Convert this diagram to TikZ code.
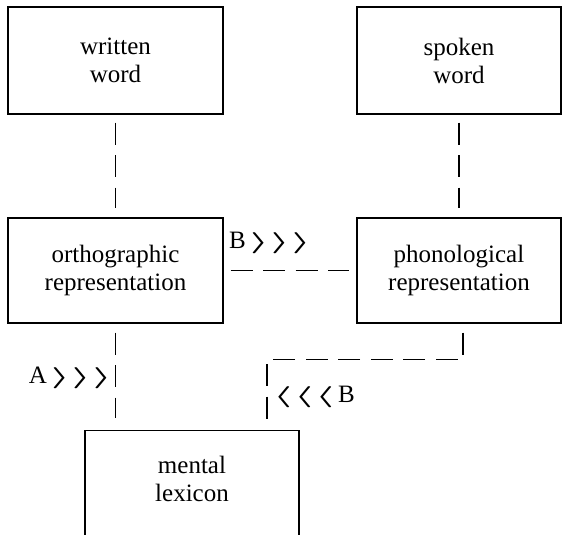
\documentclass[tikz,border=0pt]{standalone}
\usepackage{fontspec}
\usepackage{graphicx}
\setmainfont{Liberation Serif}
\newcommand{\chevR}{\scalebox{1.7}[0.85]{\boldmath$\rangle$}}
\newcommand{\chevL}{\scalebox{1.7}[0.85]{\boldmath$\langle$}}
\newcommand{\fwd}{\chevR\kern2pt\chevR\kern2pt\chevR}
\newcommand{\bwd}{\chevL\kern2pt\chevL\kern2pt\chevL}
\tikzset{
  box/.style={draw,line width=1.2pt,align=center,inner sep=0pt,
    font=\fontsize{25}{28}\selectfont},
  link/.style={line width=1.2pt,dash pattern=on 22pt off 10.5pt},
  tag/.style={inner sep=0pt,align=center,font=\fontsize{25}{28}\selectfont}
}
\begin{document}
\begin{tikzpicture}[x=1pt,y=-1pt]
  \clip (0,0) rectangle (563,535);
  % boxes
  \node[box,minimum width=215pt,minimum height=107pt] (written) at (115.5,60.5) {written\\word};
  \node[box,minimum width=204pt,minimum height=107pt] (spoken) at (459,60.5) {spoken\\word};
  \node[box,minimum width=215pt,minimum height=105pt] (ortho) at (115.5,270.5) {orthographic\\representation};
  \node[box,minimum width=204pt,minimum height=105pt] (phono) at (459,270.5) {phonological\\representation};
  \node[box,minimum width=214pt,minimum height=140pt,anchor=north] (lexicon) at (192,430) {};
  \node[tag] (lexicontext) at (192,479) {mental\\lexicon};
  % connectors
  \draw[link,shorten <=8pt,shorten >=9pt] (written) -- (ortho);
  \draw[link,shorten <=8pt,shorten >=9pt] (spoken) -- (phono);
  \draw[link,shorten <=7pt,shorten >=7pt] (ortho) -- (phono);
  \draw[link,shorten <=9pt,shorten >=12pt] (ortho.south) -- (ortho.south |- lexicon.north);
  \draw[link,shorten <=9pt,shorten >=10pt] ([xshift=4pt]phono.south) -- ++(0,36)
    -| ([xshift=75pt]lexicon.north);
  % route labels
  \node[tag,anchor=east] (tagA) at (112,378) {A\,\fwd};
  \node[tag,anchor=west] (tagBtop) at (229,243) {B\,\fwd};
  \node[tag,anchor=west] (tagBlow) at (273,397) {\bwd\,B};
\end{tikzpicture}
\end{document}
